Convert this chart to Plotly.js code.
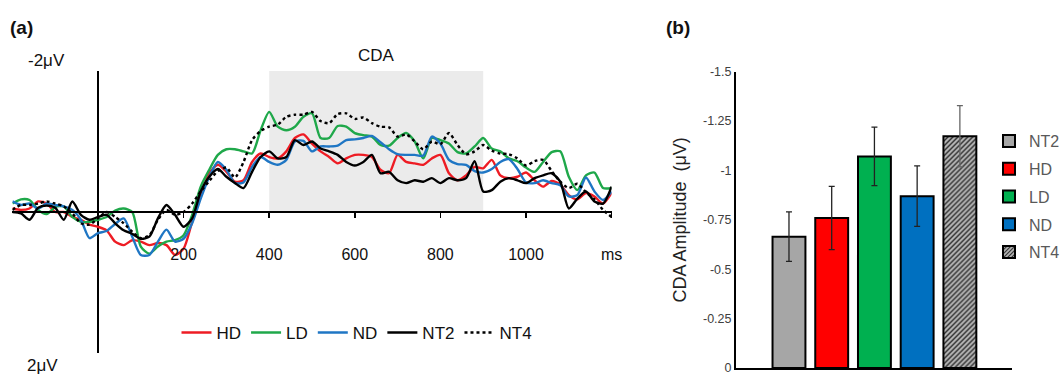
<!DOCTYPE html>
<html>
<head>
<meta charset="utf-8">
<script src="https://cdn.plot.ly/plotly-3.0.1.min.js"></script>
<style>html,body{margin:0;padding:0;background:#fff}#chart{width:1062px;height:375px}</style>
</head>
<body>
<div id="chart"></div>
<script>
// ---- Panel (a): ERP waveforms (time in ms, amplitude in µV) ----
const timeMs = [-200,-180,-160,-140,-120,-100,-80,-60,-40,-20,0,20,40,60,80,100,120,140,160,180,200,220,240,260,280,300,320,340,360,380,400,420,440,460,480,500,520,540,560,580,600,620,640,660,680,700,720,740,760,780,800,820,840,860,880,900,920,940,960,980,1000,1020,1040,1060,1080,1100,1120,1140,1160,1180,1200];

const hdWave = [-0.05,-0.03,-0.05,-0.15,-0.12,0.0,0.0,0.07,0.11,0.18,0.21,0.26,0.42,0.47,0.40,0.42,0.47,0.44,0.47,0.61,0.52,0.14,-0.22,-0.55,-0.67,-0.57,-0.43,-0.45,-0.71,-0.83,-0.78,-0.76,-0.86,-1.05,-1.10,-0.97,-0.86,-0.78,-0.69,-0.76,-0.81,-0.81,-0.78,-0.60,-0.55,-0.81,-0.71,-0.69,-0.67,-0.76,-0.81,-0.55,-0.45,-0.52,-0.64,-0.62,-0.74,-0.52,-0.48,-0.50,-0.56,-0.45,-0.36,-0.44,-0.39,-0.24,-0.18,-0.27,-0.22,-0.12,-0.27];

const ldWave = [-0.12,-0.18,-0.17,-0.03,0.03,-0.07,-0.08,0.07,0.14,0.14,0.11,0.07,-0.02,-0.05,0.0,0.49,0.59,0.49,0.42,0.40,0.33,0.04,-0.36,-0.60,-0.81,-0.89,-0.89,-0.86,-0.83,-1.16,-1.42,-1.21,-1.16,-1.21,-1.35,-1.40,-1.05,-1.05,-1.22,-1.21,-1.12,-1.09,-1.07,-0.95,-0.94,-1.05,-1.12,-1.00,-0.76,-1.05,-1.02,-0.97,-0.85,-0.83,-0.93,-1.05,-0.90,-0.86,-0.76,-0.72,-0.63,-0.57,-0.71,-0.85,-0.86,-0.50,-0.31,-0.52,-0.56,-0.34,-0.34];

const ndWave = [-0.15,-0.10,-0.12,-0.05,-0.12,-0.10,-0.08,-0.03,0.11,0.37,0.30,0.27,0.17,0.09,0.35,0.61,0.61,0.42,0.25,0.42,0.38,0.16,-0.19,-0.50,-0.71,-0.60,-0.41,-0.42,-0.64,-0.78,-0.71,-0.67,-0.74,-1.00,-1.01,-0.86,-0.93,-0.93,-0.94,-1.02,-1.03,-1.05,-1.08,-0.99,-0.89,-0.82,-0.81,-0.81,-0.80,-1.07,-0.97,-0.74,-0.68,-0.67,-0.58,-0.56,-0.61,-0.71,-0.75,-0.61,-0.42,-0.41,-0.45,-0.41,-0.38,-0.22,-0.24,-0.49,-0.29,-0.17,-0.29];

const nt2Wave = [0.0,0.02,0.11,-0.06,-0.09,-0.06,0.11,-0.15,0.04,0.11,0.07,0.04,0.16,0.26,0.31,0.38,0.35,0.09,-0.10,0.04,0.21,0.09,-0.29,-0.50,-0.61,-0.50,-0.41,-0.34,-0.57,-0.78,-0.86,-0.76,-0.78,-1.02,-0.95,-1.00,-0.90,-0.86,-0.81,-0.71,-0.66,-0.71,-0.81,-0.55,-0.57,-0.45,-0.41,-0.45,-0.43,-0.48,-0.41,-0.48,-0.45,-0.48,-0.72,-0.29,-0.31,-0.43,-0.48,-0.45,-0.41,-0.48,-0.52,-0.55,-0.43,-0.05,-0.19,-0.29,-0.15,-0.12,-0.36];

const nt4Wave = [-0.03,-0.10,-0.10,-0.12,-0.15,-0.12,-0.08,0.02,0.16,0.18,0.09,0.0,0.07,0.16,0.28,0.37,0.33,0.11,-0.03,0.04,0.0,-0.12,-0.29,-0.44,-0.58,-0.63,-0.49,-0.71,-1.02,-1.15,-1.21,-1.24,-1.35,-1.38,-1.38,-1.42,-1.29,-1.26,-1.39,-1.40,-1.32,-1.34,-1.26,-1.21,-1.20,-1.07,-1.10,-1.00,-0.89,-1.00,-0.96,-1.12,-0.95,-0.82,-0.86,-0.95,-0.87,-0.83,-0.82,-0.76,-0.66,-0.72,-0.74,-0.58,-0.43,-0.34,-0.40,-0.28,-0.18,-0.03,0.07];

const waveNames = ['HD','LD','ND','NT2','NT4'];
const waveColors = ['#ee1c24','#1fa84a','#1f76c4','#000000','#000000'];
const waveDash = ['solid','solid','solid','solid','dot'];
const waveData = [hdWave, ldWave, ndWave, nt2Wave, nt4Wave];

const xTickVals = [200,400,600,800,1000,1200];
const xTickText = ['200','400','600','800','1000','ms'];
const cdaWindow = [400, 900];

// ---- Panel (b): mean CDA amplitude (µV) ----
const barNames = ['NT2','HD','LD','ND','NT4'];
const barValues = [-0.665,-0.759,-1.071,-0.870,-1.173];
const barErrors = [0.125,0.160,0.148,0.153,0.155];
const barColors = ['#a6a6a6','#ff0000','#00b050','#0070c0','#b0b0b0'];
const yTickVals = [0,-0.25,-0.5,-0.75,-1,-1.25,-1.5];
const yTickText = ['0','-0.25','-0.5','-0.75','-1','-1.25','-1.5'];

const FONT = 'Liberation Sans, Arial, Helvetica, sans-serif';

const traces = [];
waveData.forEach((ys, i) => {
  traces.push({
    type: 'scatter', mode: 'lines', x: timeMs, y: ys, name: waveNames[i],
    xaxis: 'x', yaxis: 'y', legend: 'legend',
    line: {color: waveColors[i], width: 2.4, dash: waveDash[i], shape: 'spline', smoothing: 0.7}
  });
});
barNames.forEach((nm, i) => {
  const isHatch = nm === 'NT4';
  traces.push({
    type: 'bar', x: [i], y: [barValues[i]], name: nm, width: 0.77,
    xaxis: 'x2', yaxis: 'y2', legend: 'legend2', legendgroup: nm,
    marker: {
      color: barColors[i],
      line: {color: '#000', width: 2},
      pattern: isHatch ? {shape: '/', fgcolor: '#2a2a2a', bgcolor: '#b8b8b8', size: 3.5, solidity: 0.4} : undefined
    },
    error_y: {type: 'data', array: [barErrors[i]], visible: true, color: isHatch ? '#666' : '#222', thickness: 1.3, width: 3}
  });
});

const layout = {
  width: 1062, height: 375,
  margin: {l: 0, r: 0, t: 0, b: 0, autoexpand: false},
  paper_bgcolor: '#fff', plot_bgcolor: 'rgba(0,0,0,0)',
  font: {family: FONT, color: '#111', size: 15},
  barmode: 'overlay',
  showlegend: true,
  xaxis: {
    domain: [12.4/1062, 611.6/1062], range: [-200, 1200],
    anchor: 'free', position: (375-212)/375,
    showline: true, linecolor: '#000', linewidth: 2,
    showgrid: false, zeroline: true, zerolinecolor: '#000', zerolinewidth: 2,
    ticks: 'outside', ticklen: 5, tickwidth: 1.5, tickcolor: '#000',
    tickvals: xTickVals, ticktext: xTickText,
    ticklabelstandoff: 23, ticklabeloverflow: 'allow',
    tickfont: {family: FONT, size: 16, color: '#111'}, fixedrange: true
  },
  yaxis: {
    domain: [(375-353)/375, (375-71)/375], range: [2, -2],
    anchor: 'x', visible: false, showgrid: false, zeroline: false, fixedrange: true
  },
  xaxis2: {
    domain: [736/1062, 1012/1062], range: [-1.24, 5.22], anchor: 'y2',
    showline: true, linecolor: '#000', linewidth: 2, showgrid: false, zeroline: false,
    showticklabels: false, ticks: '', fixedrange: true
  },
  yaxis2: {
    domain: [7/375, (375-71.7)/375], range: [0, -1.5], anchor: 'x2',
    showline: true, linecolor: '#000', linewidth: 2, showgrid: false, zeroline: false,
    ticks: '', ticklen: 0, tickvals: yTickVals, ticktext: yTickText, ticklabeloverflow: 'allow',
    tickfont: {family: FONT, size: 12.5, color: '#404040'},
    title: {text: 'CDA Amplitude  (μV)', font: {family: FONT, size: 18, color: '#222'}, standoff: 12},
    fixedrange: true
  },
  legend: {
    orientation: 'h', x: 357/1062, xanchor: 'center', y: (375-333)/375, yanchor: 'middle',
    font: {family: FONT, size: 17, color: '#111'}, bgcolor: 'rgba(0,0,0,0)', itemwidth: 30,
    traceorder: 'normal'
  },
  legend2: {
    orientation: 'v', x: 989/1062, xanchor: 'left', y: (375-124)/375, yanchor: 'top',
    font: {family: FONT, size: 16, color: '#595959'}, bgcolor: 'rgba(0,0,0,0)',
    tracegroupgap: 4, traceorder: 'grouped'
  },
  shapes: [{
    type: 'rect', xref: 'x', yref: 'y', x0: cdaWindow[0], x1: cdaWindow[1], y0: 0, y1: -2,
    fillcolor: '#ebebeb', line: {width: 0}, layer: 'below'
  }],
  annotations: [
    {text: '<b>(a)</b>', xref: 'paper', yref: 'paper', x: 8/1062, y: (375-28)/375, xanchor: 'left', yanchor: 'middle', showarrow: false, font: {family: FONT, size: 19, color: '#111'}},
    {text: '<b>(b)</b>', xref: 'paper', yref: 'paper', x: 664/1062, y: (375-28)/375, xanchor: 'left', yanchor: 'middle', showarrow: false, font: {family: FONT, size: 19, color: '#111'}},
    {text: '-2μV', xref: 'paper', yref: 'paper', x: 46/1062, y: (375-60)/375, xanchor: 'center', yanchor: 'middle', showarrow: false, font: {family: FONT, size: 17, color: '#111'}},
    {text: '2μV', xref: 'paper', yref: 'paper', x: 42/1062, y: (375-365)/375, xanchor: 'center', yanchor: 'middle', showarrow: false, font: {family: FONT, size: 17, color: '#111'}},
    {text: 'CDA', xref: 'x', yref: 'paper', x: (cdaWindow[0]+cdaWindow[1])/2, y: (375-56)/375, xanchor: 'center', yanchor: 'middle', showarrow: false, font: {family: FONT, size: 17, color: '#111'}}
  ]
};

Plotly.newPlot('chart', traces, layout, {displayModeBar: false, staticPlot: true});
</script>
</body>
</html>
